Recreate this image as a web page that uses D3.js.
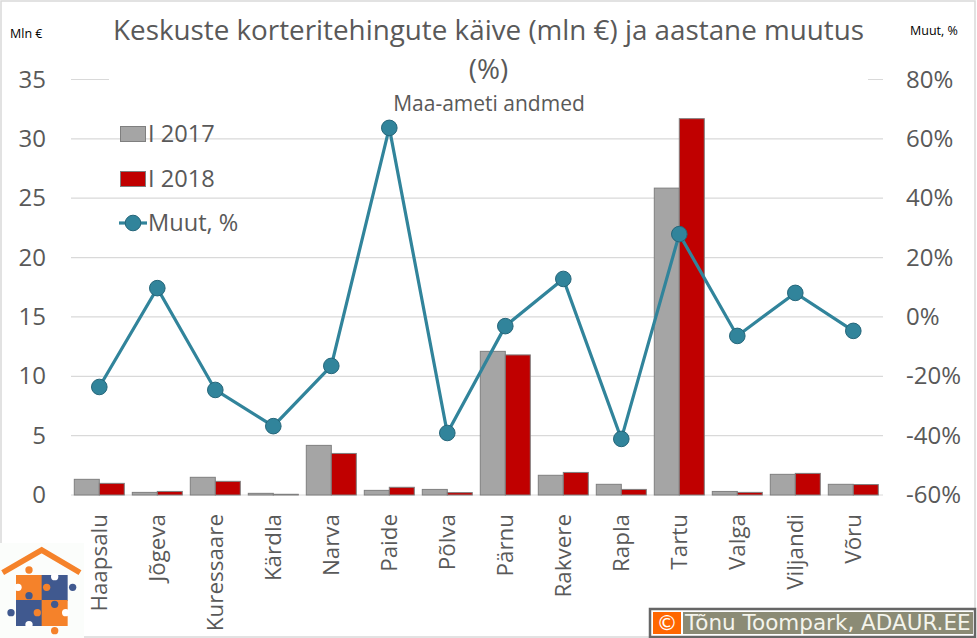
<!DOCTYPE html>
<html>
<head>
<meta charset="utf-8">
<script src="https://cdnjs.cloudflare.com/ajax/libs/d3/7.8.5/d3.min.js"></script>
<style>
  html, body { margin: 0; padding: 0; background: #fff; }
  svg { display: block; }
  text { font-family: "Open Sans", sans-serif; fill: #595959; }
</style>
</head>
<body>
<svg width="977" height="638"></svg>
<script>
const categories = ['Haapsalu', 'Jõgeva', 'Kuressaare', 'Kärdla', 'Narva', 'Paide', 'Põlva', 'Pärnu', 'Rakvere', 'Rapla', 'Tartu', 'Valga', 'Viljandi', 'Võru'];
const values2017 = [1.32, 0.22, 1.49, 0.14, 4.18, 0.39, 0.47, 12.1, 1.66, 0.9, 25.85, 0.3, 1.74, 0.9];
const values2018 = [0.98, 0.3, 1.15, 0.06, 3.5, 0.65, 0.2, 11.8, 1.9, 0.47, 31.7, 0.22, 1.82, 0.88];
const change = [-23.6, 9.7, -24.6, -36.8, -16.5, 63.7, -39.1, -3.1, 12.8, -41.1, 27.9, -6.4, 8.1, -4.7];
const leftTicks = [0, 5, 10, 15, 20, 25, 30, 35];
const rightTicks = [-60, -40, -20, 0, 20, 40, 60, 80];

const svg = d3.select('svg');
const plotLeft = 71, plotRight = 883, plotTop = 79.5, plotBottom = 495;

// outer frame of the chart
svg.append('rect').attr('x', 1).attr('y', 1).attr('width', 974).attr('height', 636)
  .attr('fill', '#fff').attr('stroke', '#d9d9d9').attr('stroke-width', 1.5);

let xScale = d3.scaleBand().domain(categories).range([plotLeft - 0.7, plotRight - 0.7]).paddingInner(0.138).paddingOuter(0.069);
let barScale = d3.scaleBand().domain(['y2017', 'y2018']).range([0, xScale.bandwidth()]);
let yScale = d3.scaleLinear().domain([0, 35]).range([plotBottom, plotTop]);
let yRight = d3.scaleLinear().domain([-60, 80]).range([plotBottom, plotTop]);

// gridlines
svg.append('g').selectAll('line')
  .data(leftTicks)
  .enter()
  .append('line')
  .attr('x1', plotLeft).attr('x2', plotRight)
  .attr('y1', d => yScale(d)).attr('y2', d => yScale(d))
  .attr('stroke', '#d9d9d9').attr('stroke-width', 1.2);

// title box hides the top gridline in the original
svg.append('rect').attr('x', 109).attr('y', 12).attr('width', 759).attr('height', 104).attr('fill', '#fff');

// bars
const drawBars = (vals, key, fill) => {
  svg.append('g').selectAll('rect')
    .data(vals)
    .enter()
    .append('rect')
    .attr('x', (d, i) => xScale(categories[i]) + barScale(key))
    .attr('y', d => yScale(d))
    .attr('width', barScale.bandwidth())
    .attr('height', d => plotBottom - yScale(d))
    .attr('fill', fill)
    .attr('stroke', '#7f7f7f')
    .attr('stroke-width', 1);
};
drawBars(values2017, 'y2017', '#a5a5a5');
drawBars(values2018, 'y2018', '#c00000');

// line
const cx = (d, i) => xScale(categories[i]) + xScale.bandwidth() / 2;
const line = d3.line().x(cx).y(d => yRight(d));
svg.append('path').datum(change)
  .attr('d', line)
  .attr('fill', 'none').attr('stroke', '#31849b').attr('stroke-width', 3.2);
svg.append('g').selectAll('circle')
  .data(change)
  .enter()
  .append('circle')
  .attr('cx', cx).attr('cy', d => yRight(d)).attr('r', 7.8)
  .attr('fill', '#31849b').attr('stroke', '#25667a').attr('stroke-width', 1);

// axes
const leftAxis = svg.append('g').attr('transform', `translate(${plotLeft},0)`)
  .call(d3.axisLeft(yScale).tickValues(leftTicks).tickSize(0).tickPadding(25));
const rightAxis = svg.append('g').attr('transform', `translate(${plotRight},0)`)
  .call(d3.axisRight(yRight).tickValues(rightTicks).tickSize(0).tickPadding(23).tickFormat(d => d + '%'));
const bottomAxis = svg.append('g').attr('transform', `translate(0,${plotBottom})`)
  .call(d3.axisBottom(xScale).tickSize(0));
[leftAxis, rightAxis, bottomAxis].forEach(a => a.select('.domain').remove());
leftAxis.selectAll('text').style('font-size', '24px').style('font-family', '"Open Sans", sans-serif');
rightAxis.selectAll('text').style('font-size', '24px').style('font-family', '"Open Sans", sans-serif');
bottomAxis.selectAll('text')
  .style('font-size', '22.4px').style('font-family', '"Open Sans", sans-serif')
  .attr('transform', 'rotate(-90)')
  .attr('text-anchor', 'end')
  .attr('x', -19).attr('y', 0).attr('dy', '0.35em');

// titles
svg.append('text').attr('x', 488.5).attr('y', 40).attr('text-anchor', 'middle')
  .style('font-size', '27.8px').text('Keskuste korteritehingute käive (mln €) ja aastane muutus');
svg.append('text').attr('x', 488.5).attr('y', 79).attr('text-anchor', 'middle')
  .style('font-size', '27.8px').text('(%)');
svg.append('text').attr('x', 489).attr('y', 111).attr('text-anchor', 'middle')
  .style('font-size', '21px').text('Maa-ameti andmed');
svg.append('text').attr('x', 10).attr('y', 38).style('font-size', '12.5px').style('fill', '#000').text('Mln €');
svg.append('text').attr('x', 910).attr('y', 35).style('font-size', '12.5px').style('fill', '#000').text('Muut, %');

// legend
const legend = svg.append('g');
[['I 2017', '#a5a5a5', 142], ['I 2018', '#c00000', 187]].forEach(([label, fill, y]) => {
  legend.append('rect').attr('x', 120.5).attr('y', y - 15.5).attr('width', 25).attr('height', 15)
    .attr('fill', fill).attr('stroke', '#7f7f7f').attr('stroke-width', 1);
  legend.append('text').attr('x', 148).attr('y', y - 0.5).style('font-size', '23.6px').text(label);
});
legend.append('line').attr('x1', 119).attr('x2', 147).attr('y1', 223).attr('y2', 223)
  .attr('stroke', '#31849b').attr('stroke-width', 3.2);
legend.append('circle').attr('cx', 133).attr('cy', 223).attr('r', 7.8)
  .attr('fill', '#31849b').attr('stroke', '#25667a').attr('stroke-width', 1);
legend.append('text').attr('x', 148).attr('y', 231).style('font-size', '23.6px').text('Muut, %');

// logo, drawn in 3x zoom units
const orange = '#f5822a', blue = '#40598f';
svg.append('rect').attr('x', 0).attr('y', 543).attr('width', 84).attr('height', 95).attr('fill', '#fbfdfb');
const logo = svg.append('g').attr('transform', 'translate(0,540) scale(0.3333)');
logo.append('path').attr('d', 'M8 98 L125 30 L240 98')
  .attr('fill', 'none').attr('stroke', orange).attr('stroke-width', 17);
[[48, 105, orange], [125, 105, blue], [48, 180, blue], [125, 180, orange]].forEach(([x, y, c]) => {
  logo.append('rect').attr('x', x).attr('y', y).attr('width', 78).attr('height', 78).attr('fill', c);
});
[[87, 90, 11, orange], [218, 142, 11, blue], [33, 218, 11, blue], [164, 272, 11, orange],
 [87, 167, 11, blue], [164, 193, 11, blue], [140, 142, 11, orange], [112, 218, 11, orange],
 [164, 110, 11, '#fff'], [54, 142, 11, '#fff'], [87, 254, 11, '#fff'], [197, 218, 11, '#fff']].forEach(([x, y, r, c]) => {
  logo.append('circle').attr('cx', x).attr('cy', y).attr('r', r).attr('fill', c);
});

// copyright box
svg.append('rect').attr('x', 650).attr('y', 609).attr('width', 325).attr('height', 28).attr('fill', '#fff')
  .attr('stroke', '#666').attr('stroke-width', 2.5);
svg.append('rect').attr('x', 653).attr('y', 612).attr('width', 28).attr('height', 22).attr('fill', '#ff6600');
svg.append('rect').attr('x', 683).attr('y', 612).attr('width', 290).attr('height', 22).attr('fill', '#8b8b75');
svg.append('text').attr('x', 667).attr('y', 630).attr('text-anchor', 'middle')
  .style('font-family', '"DejaVu Sans"').style('font-size', '21px').style('fill', '#fff').text('©');
svg.append('text').attr('x', 685).attr('y', 630)
  .style('font-family', '"DejaVu Sans"').style('font-size', '21.5px').style('fill', '#f4f4ec').text('Tõnu Toompark, ADAUR.EE');
</script>
</body>
</html>
